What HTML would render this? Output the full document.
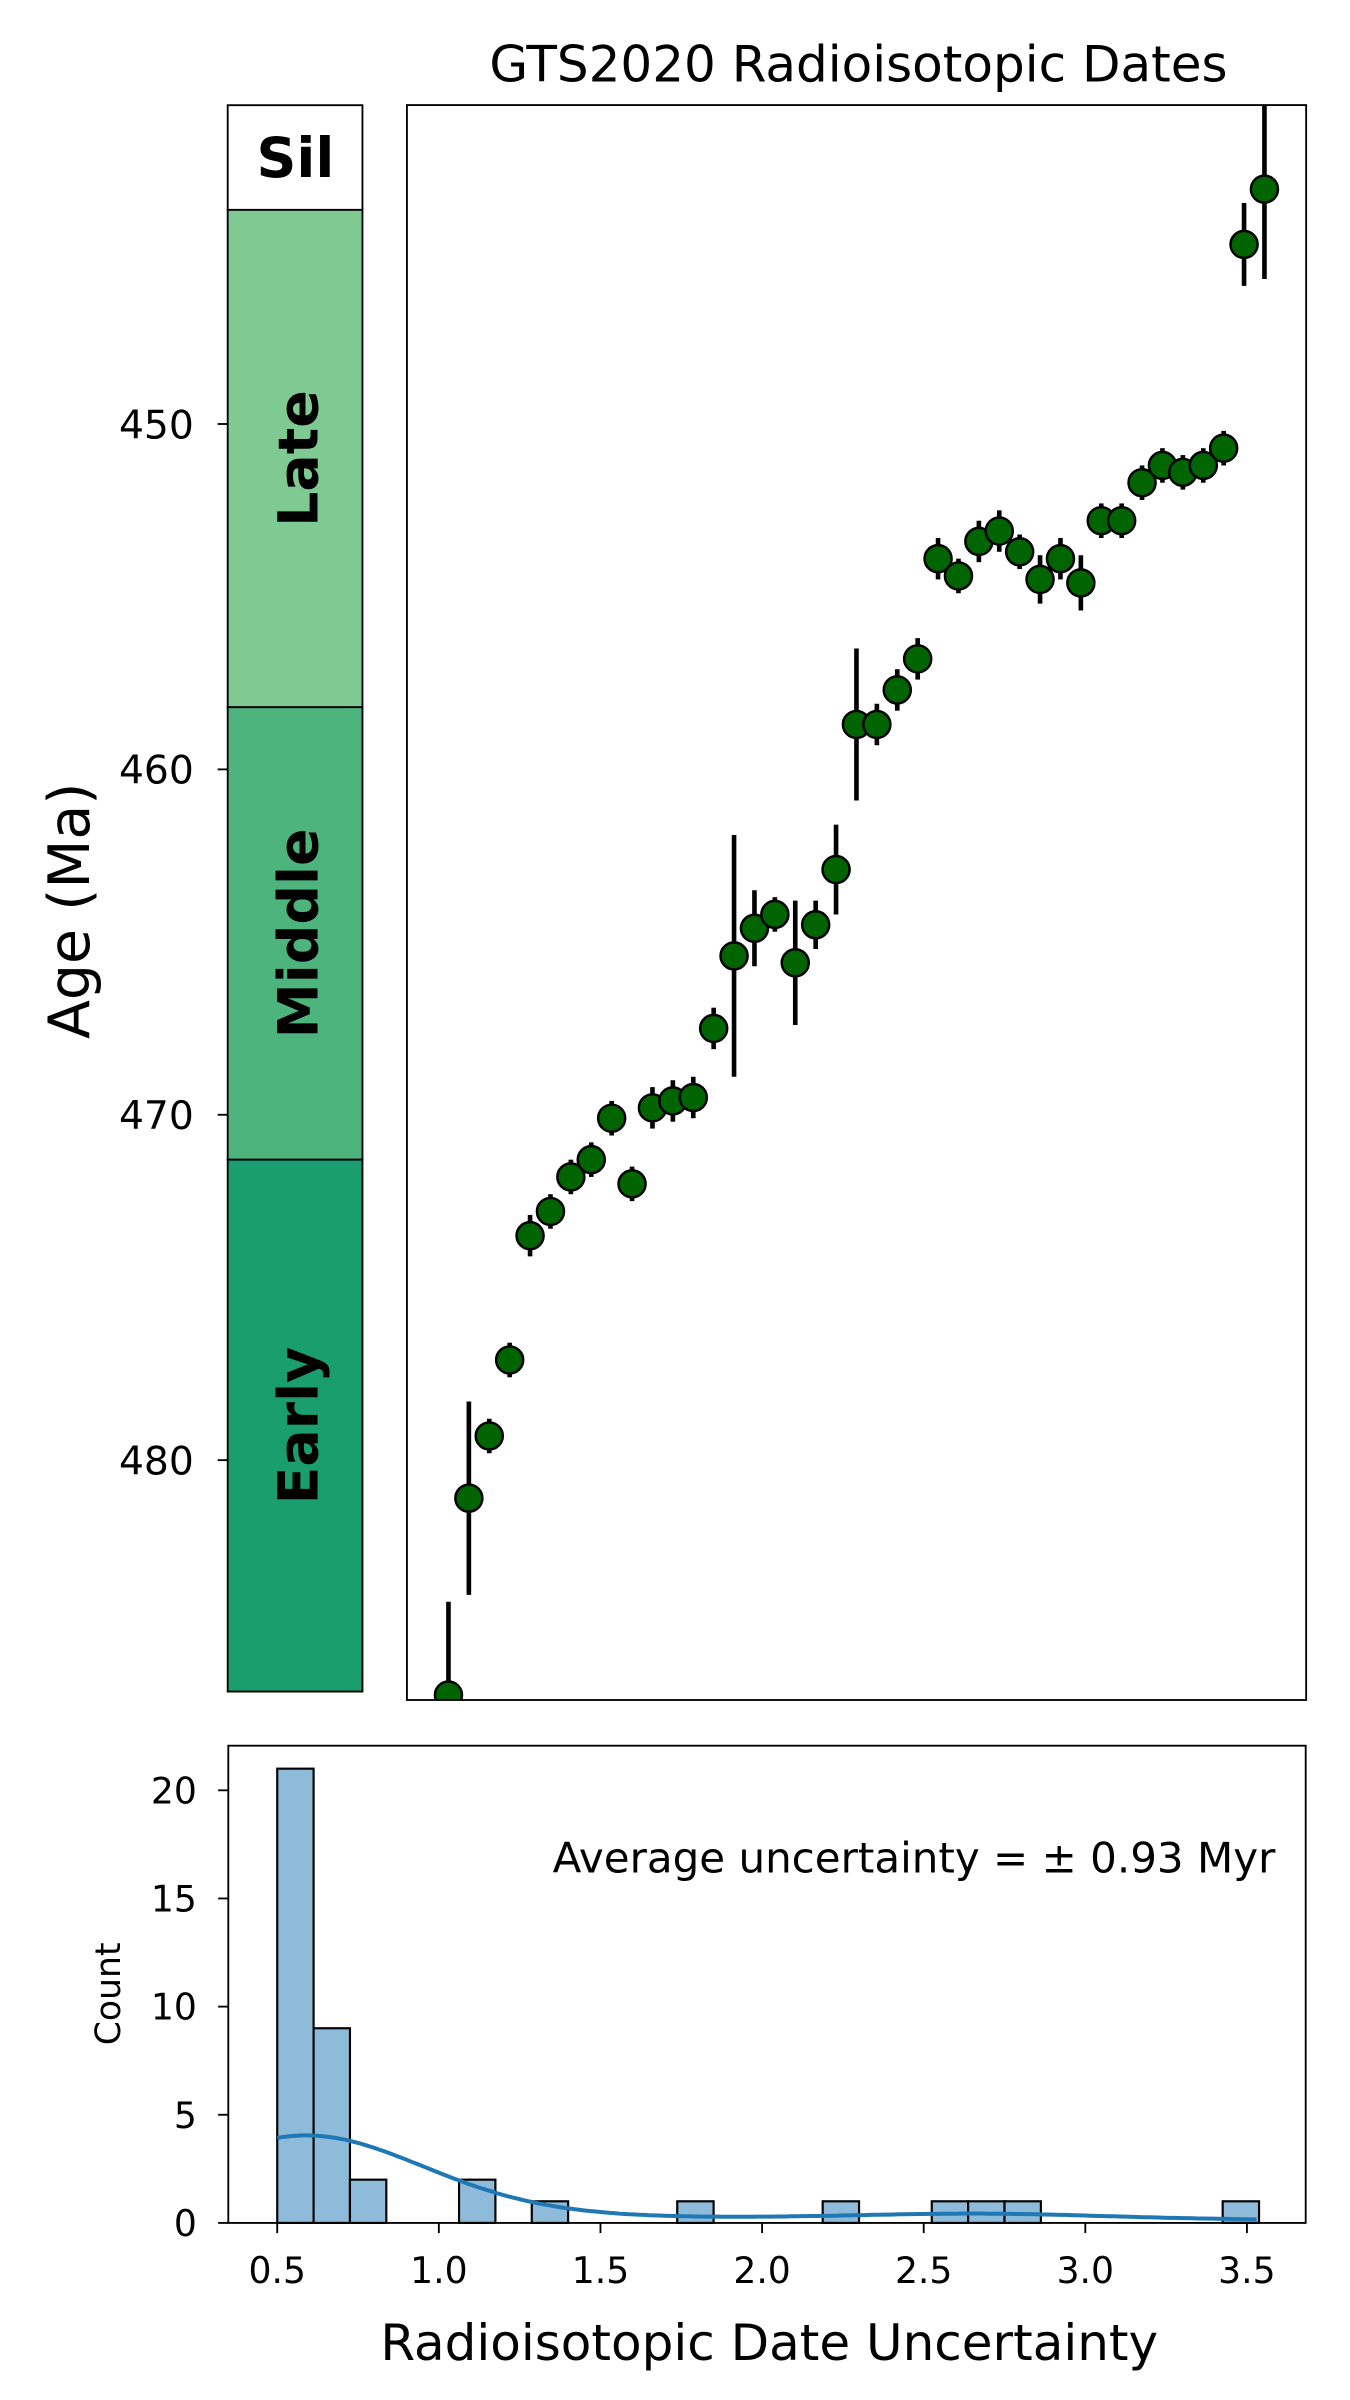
<!DOCTYPE html>
<html><head><meta charset="utf-8"><style>html,body{margin:0;padding:0;background:#fff}svg{display:block}text{font-family:"DejaVu Sans","Liberation Sans",sans-serif}</style></head>
<body>
<svg id="fig" width="1350" height="2400" viewBox="0 0 877.5 1560" xmlns="http://www.w3.org/2000/svg">
<defs><clipPath id="mainclip"><rect x="264.5" y="68.3" width="584.5" height="1036.7"/></clipPath></defs>
<text x="558" y="53" font-size="32.5" text-anchor="middle">GTS2020 Radioisotopic Dates</text>
<text transform="translate(58,592) rotate(-90)" font-size="37" text-anchor="middle">Age (Ma)</text>
<g id="strat"></g>
<g id="yticks"></g>
<g id="main" clip-path="url(#mainclip)"></g>
<rect x="264.5" y="68.3" width="584.5" height="1036.7" fill="none" stroke="#000" stroke-width="1.2"/>
<g id="hist"></g>
<rect x="148.4" y="1134.7" width="700.3" height="310.2" fill="none" stroke="#000" stroke-width="1.2"/>
<text x="829" y="1217" font-size="27.3" text-anchor="end">Average uncertainty = ± 0.93 Myr</text>
<text transform="translate(78,1296) rotate(-90)" font-size="22.5" text-anchor="middle">Count</text>
<text x="500" y="1534" font-size="32.5" text-anchor="middle">Radioisotopic Date Uncertainty</text>
</svg>
<script>
const ages=[486.8,481.1,479.3,477.1,473.5,472.8,471.8,471.3,470.1,472.0,469.8,469.6,469.5,467.5,465.4,464.6,464.2,465.6,464.5,462.9,458.7,458.7,457.7,456.8,453.9,454.4,453.4,453.1,453.7,454.5,453.9,454.6,452.8,452.8,451.7,451.2,451.4,451.2,450.7,444.8,443.2];
const errs=[2.7,2.8,0.5,0.5,0.6,0.5,0.5,0.5,0.5,0.5,0.6,0.6,0.6,0.6,3.5,1.1,0.5,1.8,0.7,1.3,2.2,0.6,0.6,0.6,0.6,0.5,0.6,0.6,0.5,0.7,0.6,0.8,0.5,0.5,0.5,0.5,0.5,0.5,0.5,1.2,2.6];
const yTicks=[450,460,470,480];
const stages=["Sil","Late","Middle","Early"];
const stageTops=[440.77,443.8,458.2,471.3];
const stageBases=[443.8,458.2,471.3,486.7];
const stageColors=["#ffffff","#7fca93","#4db47e","#1a9d6f"];
const binCounts=[21,9,2,0,0,2,0,1,0,0,0,1,0,0,0,1,0,0,1,1,1,0,0,0,0,0,1];
const uncertValues=[0.55,0.6,0.7,1.1,1.3,1.8,2.25,2.6,2.75,2.85,3.5];
const uncertWeights=[21,9,2,2,1,1,1,1,1,1,1];
const xTicks=[0.5,1.0,1.5,2.0,2.5,3.0,3.5];
const xTickLabels=["0.5","1.0","1.5","2.0","2.5","3.0","3.5"];
const hTicks=[0,5,10,15,20];
const binStart=0.5, binWidth=0.1125;

const NS="http://www.w3.org/2000/svg";
function mk(tag,attrs,parent){const e=document.createElementNS(NS,tag);for(const k in attrs)e.setAttribute(k,attrs[k]);parent.appendChild(e);return e;}
const yAge=a=>275.6+(a-450)*22.45;
const xIdx=i=>291.5+i*13.26;
const xU=u=>180.2+(u-0.5)*210.1;
const yC=c=>1444.9-c*14.06;

const strat=document.getElementById('strat');
stages.forEach((s,i)=>{
  const y0=Math.max(68.3,yAge(stageTops[i])),y1=Math.min(1105,yAge(stageBases[i]));
  const r=mk('rect',{x:148,y:y0,width:87.6,height:y1-y0,fill:stageColors[i],stroke:'#000','stroke-width':1.2},strat);
  
  
  const cy=(y0+y1)/2;
  const t=mk('text',{'font-size':36,'font-weight':'bold','text-anchor':'middle'},strat);
  if(i===0){t.setAttribute('x',192);t.setAttribute('y',cy+12.5);}
  else{t.setAttribute('transform','translate(206.5,'+cy+') rotate(-90)');}
  t.textContent=s;
  
  
});
const yt=document.getElementById('yticks');
yTicks.forEach(v=>{
  const y=yAge(v);
  mk('line',{x1:141.5,x2:148,y1:y,y2:y,stroke:'#000','stroke-width':1.2},yt);
  const t=mk('text',{x:126,y:y+9.3,'font-size':25.5,'text-anchor':'end'},yt);
  t.textContent=v;
  
  
});
const main=document.getElementById('main');
ages.forEach((a,i)=>{
  const x=xIdx(i);
  const l=mk('line',{x1:x,x2:x,y1:yAge(a-errs[i]),y2:yAge(a+errs[i]),stroke:'#000','stroke-width':3},main);
  
  
});
ages.forEach((a,i)=>{
  const c=mk('circle',{cx:xIdx(i),cy:yAge(a),r:8.8,fill:'#006400',stroke:'#000','stroke-width':1.6},main);
  
  
});
const hist=document.getElementById('hist');
binCounts.forEach((c,i)=>{
  if(!c)return;
  const x0=xU(binStart+i*binWidth),x1=xU(binStart+(i+1)*binWidth);
  const r=mk('rect',{x:x0,y:yC(c),width:x1-x0,height:c*14.06,fill:'#8fbbdb',stroke:'#000','stroke-width':1.4},hist);
  
  
});
let n=0,mean=0;uncertValues.forEach((v,i)=>{n+=uncertWeights[i];mean+=v*uncertWeights[i];});mean/=n;
let vr=0;uncertValues.forEach((v,i)=>{vr+=uncertWeights[i]*(v-mean)**2;});vr/=(n-1);
const bw=Math.sqrt(vr)*Math.pow(n,-0.2);
let d='';const lo=0.5,hi=3.53;
for(let k=0;k<=200;k++){const u=lo+(hi-lo)*k/200;let s=0;uncertValues.forEach((v,i)=>{s+=uncertWeights[i]*Math.exp(-0.5*((u-v)/bw)**2);});
  const dens=s/(n*bw*Math.sqrt(2*Math.PI));const c=dens*n*binWidth;d+=(k?'L':'M')+xU(u).toFixed(1)+','+yC(c).toFixed(1);}
const kde=mk('path',{d:d,fill:'none',stroke:'#1f77b4','stroke-width':2.6},hist);


xTicks.forEach((v,i)=>{
  const x=xU(v);
  mk('line',{x1:x,x2:x,y1:1444.9,y2:1451.5,stroke:'#000','stroke-width':1.2},hist);
  const t=mk('text',{x:x,y:1484,'font-size':23.5,'text-anchor':'middle'},hist);
  t.textContent=xTickLabels[i];
  
  
});
hTicks.forEach(v=>{
  const y=yC(v);
  mk('line',{x1:141.8,x2:148.4,y1:y,y2:y,stroke:'#000','stroke-width':1.2},hist);
  const t=mk('text',{x:128,y:y+8.5,'font-size':23.5,'text-anchor':'end'},hist);
  t.textContent=v;
  
  
});
</script>
</body></html>
